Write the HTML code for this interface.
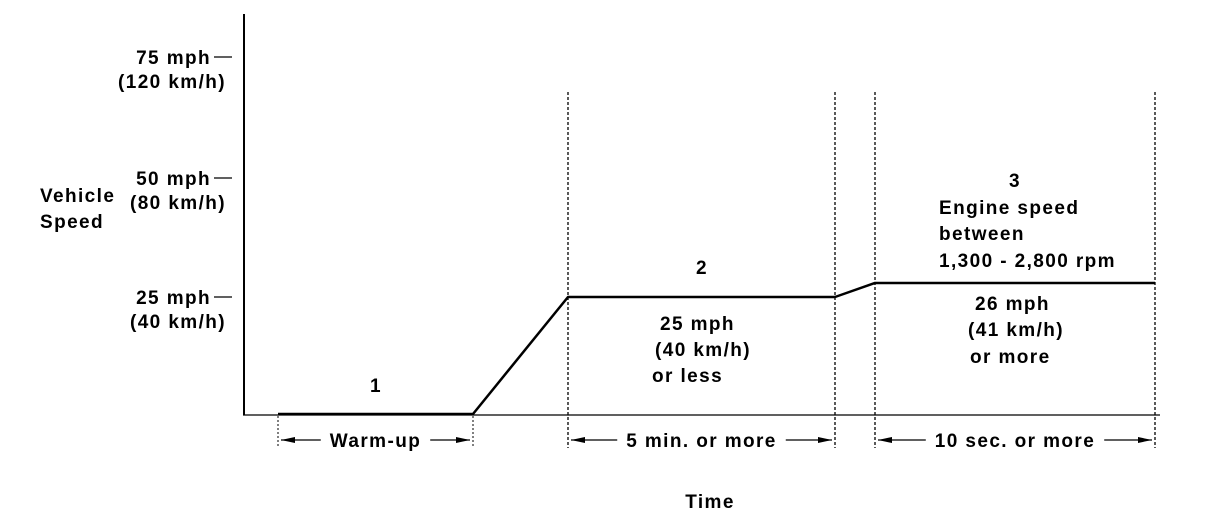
<!DOCTYPE html>
<html><head><meta charset="utf-8"><style>
body{margin:0;background:#fff;}
svg{display:block;font-family:"Liberation Sans",Arial,sans-serif;font-weight:bold;font-size:19px;letter-spacing:1.4px;}
</style></head><body>
<svg id="chart" width="1216" height="530" viewBox="0 0 1216 530">
<line x1="244" y1="14" x2="244" y2="415" stroke="#000" stroke-width="2"/>
<line x1="243" y1="415" x2="1160" y2="415" stroke="#000" stroke-width="1.2"/>
<text x="40" y="202">Vehicle</text>
<text x="40" y="228">Speed</text>
<text x="710" y="508" text-anchor="middle">Time</text>
<g id="ticks"></g>
<g id="guides"></g>
<g id="series"></g>
<g id="labels"></g>
</svg>
<script>
const tickMph=[75,50,25];
const tickLabels=["75 mph","50 mph","25 mph"];
const tickKmh=["(120 km/h)","(80 km/h)","(40 km/h)"];
const timePts=[0.34,2.29,3.24,5.91,6.31,9.11];
const speedPts=[0,0,25,25,28,28];
const phaseBounds=[3.24,5.91,6.31,9.11];
const warmBounds=[0.34,2.29];
const spans=[[0.34,2.29,"Warm-up"],[3.24,5.91,"5 min. or more"],[6.31,9.11,"10 sec. or more"]];

const NS="http://www.w3.org/2000/svg";
function X(t){return 244+t*100;}
function Y(v){return 414-v*(414-297)/25;}
function mk(tag,attrs,parent,txt){const e=document.createElementNS(NS,tag);for(const k in attrs)e.setAttribute(k,attrs[k]);if(txt!==undefined)e.textContent=txt;parent.appendChild(e);return e;}
const ticks=document.getElementById('ticks');
const yTickPos=[57,178,297];
tickMph.forEach((v,i)=>{
  const y=i===2?Y(v):yTickPos[i];
  const l=mk('line',{x1:214,x2:232,y1:y,y2:y,stroke:'#000','stroke-width':1.3},ticks);
  
  
  const t=mk('text',{x:211,y:y+7,'text-anchor':'end'},ticks,tickLabels[i]);
  
  
  const k=mk('text',{x:226,y:y+31,'text-anchor':'end'},ticks,tickKmh[i]);
  
  
});
const guides=document.getElementById('guides');
phaseBounds.forEach(t=>{
  const l=mk('line',{x1:X(t),x2:X(t),y1:92,y2:448,stroke:'#000','stroke-width':1.3,'stroke-dasharray':'3,2'},guides);
  
  
});
warmBounds.forEach(t=>{
  const l=mk('line',{x1:X(t),x2:X(t),y1:416,y2:448,stroke:'#000','stroke-width':1,'stroke-dasharray':'2,2'},guides);
  
  
});
spans.forEach(s=>{
  const x1=X(s[0])+3,x2=X(s[1])-3,y=440,mid=(x1+x2)/2;
  const g=mk('g',{},guides);
  
  
  const t=mk('text',{x:mid,y:y+7,'text-anchor':'middle'},g,s[2]);
  let tw=s[2].length*6.2+8;
  try{tw=t.getComputedTextLength()/2+9;}catch(e){}
  mk('line',{x1:x1,x2:mid-tw,y1:y,y2:y,stroke:'#000','stroke-width':1.3},g);
  mk('line',{x1:mid+tw,x2:x2,y1:y,y2:y,stroke:'#000','stroke-width':1.3},g);
  mk('polygon',{points:`${x1},${y} ${x1+14},${y-3} ${x1+14},${y+3}`},g);
  mk('polygon',{points:`${x2},${y} ${x2-14},${y-3} ${x2-14},${y+3}`},g);
});
const series=document.getElementById('series');
const pts=timePts.map((t,i)=>X(t)+','+Y(speedPts[i])).join(' ');
const pl=mk('polyline',{points:pts,fill:'none',stroke:'#000','stroke-width':2.5,'stroke-linejoin':'round'},series);


const labels=document.getElementById('labels');
const lab=[[376,392,"1","middle"],[702,274,"2","middle"],[660,330,"25 mph","start"],[655,356,"(40 km/h)","start"],[652,382,"or less","start"],
[1015,187,"3","middle"],[939,214,"Engine speed","start"],[939,240,"between","start"],[939,267,"1,300 - 2,800 rpm","start"],
[975,310,"26 mph","start"],[968,336,"(41 km/h)","start"],[970,363,"or more","start"]];
lab.forEach(a=>{
  const t=mk('text',{x:a[0],y:a[1],'text-anchor':a[3]},labels,a[2]);
  
  
});
</script>
</body></html>
